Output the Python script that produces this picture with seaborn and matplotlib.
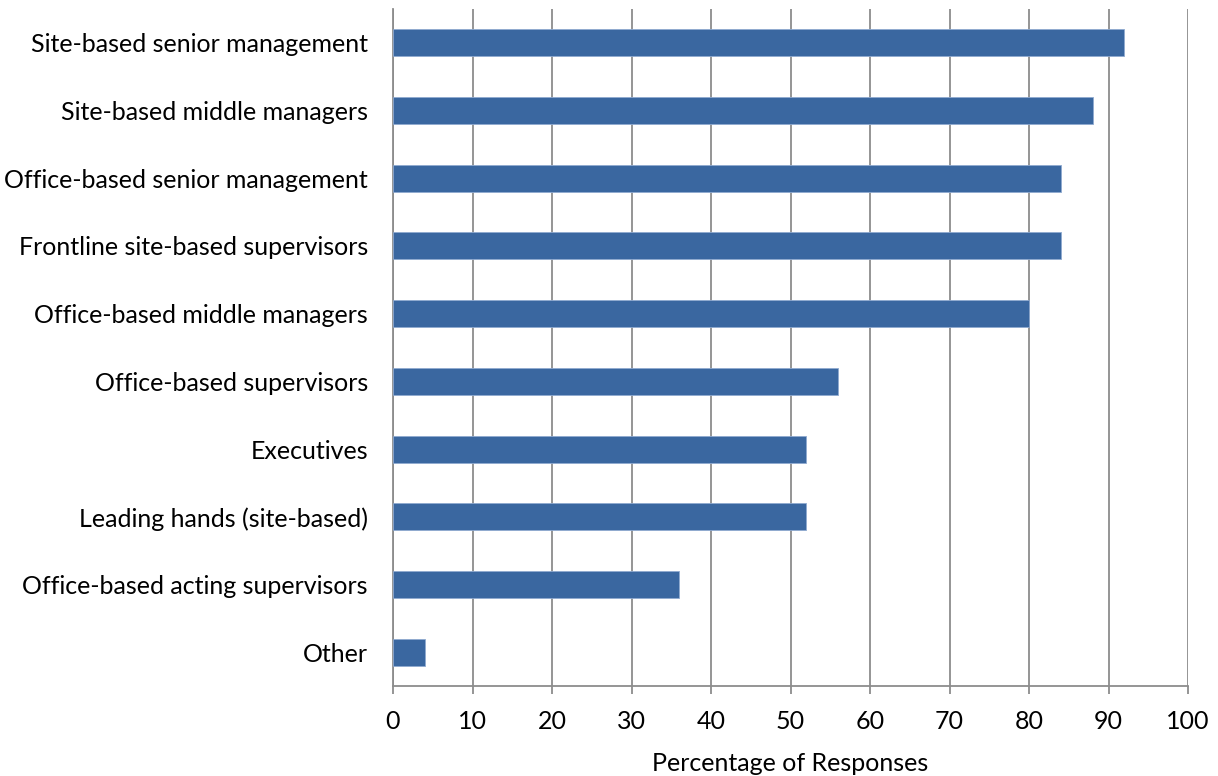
import pandas as pd
import numpy as np
import matplotlib.pyplot as plt
import seaborn as sns

categories = [
    'Site-based senior management',
    'Site-based middle managers',
    'Office-based senior management',
    'Frontline site-based supervisors',
    'Office-based middle managers',
    'Office-based supervisors',
    'Executives',
    'Leading hands (site-based)',
    'Office-based acting supervisors',
    'Other',
]
values = [92, 88, 84, 84, 80, 56, 52, 52, 36, 4]
xticks = [0, 10, 20, 30, 40, 50, 60, 70, 80, 90, 100]

df = pd.DataFrame({'role': categories, 'pct': values})

sns.set_style('white')
plt.rcParams['font.family'] = ['Lato', 'DejaVu Sans']
plt.rcParams['text.color'] = 'black'
plt.rcParams['xtick.labelcolor'] = 'black'
plt.rcParams['ytick.labelcolor'] = 'black'
plt.rcParams['axes.labelcolor'] = 'black'

fig = plt.figure(figsize=(12.18, 7.76), dpi=100)
ax = fig.add_axes([393 / 1218, 1 - 686 / 776, (1188 - 393) / 1218, (686 - 9) / 776])

sns.barplot(data=df, x='pct', y='role', color='#3A67A0', saturation=1, width=0.4,
            edgecolor='#8FAAD0', linewidth=0.6, ax=ax, zorder=3)

ax.set_xlim(0, 100)
ax.set_ylim(len(categories) - 0.5, -0.5)
ax.set_xticks(xticks)
ax.xaxis.grid(True, color='#8C8C8C', linewidth=1.3, zorder=0)
ax.set_axisbelow(True)

for side in ['top', 'right']:
    ax.spines[side].set_visible(False)
for side in ['left', 'bottom']:
    ax.spines[side].set_color('#8C8C8C')
    ax.spines[side].set_linewidth(1.3)

ax.tick_params(axis='x', length=6, width=1.3, color='#8C8C8C', labelsize=18, pad=11, bottom=True)
ax.tick_params(axis='y', length=0, labelsize=18, pad=18)
ax.set_ylabel('')
ax.set_xlabel('Percentage of Responses', fontsize=18, labelpad=14)

fig.savefig('out.png', dpi=100)
